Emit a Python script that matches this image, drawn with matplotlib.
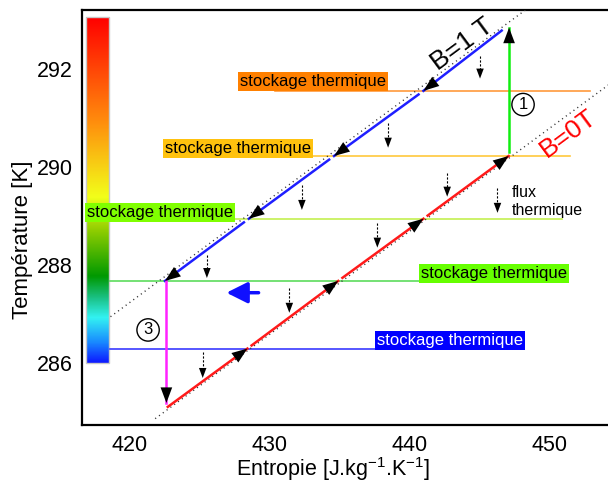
import matplotlib.pyplot as plt
import numpy as np
from matplotlib.colors import LinearSegmentedColormap
from matplotlib.patches import Rectangle

plt.rcParams['font.family'] = ['Liberation Sans', 'DejaVu Sans']
plt.rcParams['mathtext.fontset'] = 'custom'
plt.rcParams['mathtext.rm'] = 'Liberation Sans'
plt.rcParams['mathtext.it'] = 'Liberation Sans:italic'

# --- données ---
# niveaux de stockage thermique (K) et étendue en entropie
niveaux_T = [286.29, 287.67, 288.94, 290.22, 291.55]
niveaux_Smin = [418.6, 418.6, 427.3, 424.5, 430.4]
niveaux_Smax = [441.3, 447.0, 450.9, 451.5, 452.9]
niveaux_couleur = ['#3a3aff', '#5cdb5c', '#c4f050', '#ffc83c', '#ff9a3c']

# étiquettes "stockage thermique" (coin gauche, centre vertical)
etiq_S = [437.7, 440.8, 416.9, 422.5, 427.9]
etiq_T = [286.46, 287.83, 289.07, 290.37, 291.745]
etiq_fond = ['#0000ff', '#66ff00', '#80ff00', '#ffc20e', '#ff8000']
etiq_texte = ['white', 'black', 'black', 'black', 'black']

# isochamp B=1T (descente) et B=0T (montée)
b1_S = [422.5, 428.5, 434.6, 441.0, 446.6]
b1_T = [287.67, 288.94, 290.22, 291.55, 292.78]
b0_S = [422.7, 428.4, 434.9, 441.0, 447.1]
b0_T = [285.10, 286.29, 287.67, 288.94, 290.22]
pointille_b1_S = [418.6, 448.3]
pointille_b1_T = [286.94, 293.2]
pointille_b0_S = [421.8, 455.0]
pointille_b0_T = [284.86, 291.83]

# flux thermique (petites flèches pointillées)
flux_S = [445.05, 438.47, 432.3, 442.7, 446.3, 437.7, 425.5, 431.4, 425.2]
flux_Thaut = [292.27, 290.90, 289.63, 289.88, 289.57, 288.86, 288.20, 287.53, 286.22]
flux_Tbas = [291.80, 290.39, 289.12, 289.39, 289.06, 288.35, 287.73, 287.02, 285.69]

# étapes 1 (aimantation) et 3 (désaimantation)
etape1_S, etape1_T = 447.13, [290.31, 292.84]
etape3_S, etape3_T = 422.6, [287.67, 285.18]


def tete(ax, x0, y0, x1, y1, color='k', ms=14):
    ax.annotate('', xy=(x1, y1), xytext=(x0, y0),
                arrowprops=dict(arrowstyle='-|>,head_length=0.8,head_width=0.3',
                                color=color, lw=0, shrinkA=0, shrinkB=0,
                                mutation_scale=ms), zorder=6)


fig = plt.figure(figsize=(6.08, 4.84), dpi=100)
ax = fig.add_axes([82 / 608, 59 / 484, 538 / 608, 415 / 484])

# barre de couleur (échelle de température)
cmap = LinearSegmentedColormap.from_list('temp', [
    (0.0, (0.05, 0.1, 1.0)), (0.06, (0.1, 0.55, 1.0)), (0.13, (0.2, 0.95, 0.95)),
    (0.19, (0.1, 0.75, 0.5)), (0.25, (0.0, 0.6, 0.0)), (0.38, (0.55, 0.8, 0.0)),
    (0.48, (0.95, 1.0, 0.1)), (0.7, (1.0, 0.55, 0.05)), (1.0, (1.0, 0.0, 0.0))])
grad = np.linspace(0, 1, 256).reshape(-1, 1)
ax.imshow(grad, extent=[416.85, 418.5, 286.0, 293.06], origin='lower',
          aspect='auto', cmap=cmap, zorder=1)
ax.add_patch(Rectangle((416.85, 286.0), 1.65, 7.06, fill=False, ec='#c8c8c8', lw=1, zorder=2))

# niveaux horizontaux
for T, s0, s1, c in zip(niveaux_T, niveaux_Smin, niveaux_Smax, niveaux_couleur):
    ax.plot([s0, s1], [T, T], color=c, lw=1.2, zorder=2)

# lignes pointillées des isochamps
ax.plot(pointille_b1_S, pointille_b1_T, color='#333333', lw=1, ls=(0, (0.8, 2.6)), zorder=3)
ax.plot(pointille_b0_S, pointille_b0_T, color='#333333', lw=1, ls=(0, (0.8, 2.6)), zorder=3)

pente = (b1_T[-1] - b1_T[0]) / (b1_S[-1] - b1_S[0])

# B=1T : segments bleus vers le bas
for i in range(4):
    s0 = b1_S[i + 1] - (0 if i == 3 else 0.35)
    t0 = b1_T[i + 1] - (0 if i == 3 else 0.35 * pente)
    ax.plot([s0, b1_S[i]], [t0, b1_T[i]], color='#1f1fff', lw=1.8, zorder=4)
    tete(ax, s0, t0, b1_S[i], b1_T[i])

# B=0T : segments rouges vers le haut
for i in range(4):
    s0 = b0_S[i] + (0 if i == 0 else 0.3)
    t0 = b0_T[i] + (0 if i == 0 else 0.3 * pente)
    ax.plot([s0, b0_S[i + 1]], [t0, b0_T[i + 1]], color='#ff1a1a', lw=1.8, zorder=4)
    tete(ax, s0, t0, b0_S[i + 1], b0_T[i + 1])

# étape 1 et étape 3
ax.plot([etape1_S, etape1_S], etape1_T, color='#11ee11', lw=1.8, zorder=4)
tete(ax, etape1_S, etape1_T[0], etape1_S, etape1_T[1])
ax.plot([etape3_S, etape3_S], etape3_T, color='#ff22ff', lw=1.8, zorder=4)
tete(ax, etape3_S, etape3_T[0], etape3_S, etape3_T[1])

ax.text(448.13, 291.27, '1', fontsize=12, ha='center', va='center',
        bbox=dict(boxstyle='circle,pad=0.22', fc='none', ec='k', lw=1), zorder=5)
ax.text(421.29, 286.67, '3', fontsize=12, ha='center', va='center',
        bbox=dict(boxstyle='circle,pad=0.22', fc='none', ec='k', lw=1), zorder=5)

# flèche bleue (sens du fluide)
ax.annotate('', xy=(426.9, 287.43), xytext=(429.2, 287.43),
            arrowprops=dict(arrowstyle='-|>,head_length=0.8,head_width=0.4',
                            color='#1010ff', lw=2.5, shrinkA=0, shrinkB=0,
                            mutation_scale=16), zorder=5)

# flux thermique
for s, th, tb in zip(flux_S, flux_Thaut, flux_Tbas):
    ax.plot([s, s], [th, tb + 0.1], color='k', lw=0.8, ls=(0, (2, 1.5)), zorder=5)
    tete(ax, s, th, s, tb, ms=9)
ax.text(447.35, 289.29, 'flux\nthermique', fontsize=11.5, ha='left', va='center',
        linespacing=1.25, zorder=5)

# étiquettes de stockage thermique
for s, t, fc, tc in zip(etiq_S, etiq_T, etiq_fond, etiq_texte):
    ax.text(s, t, 'stockage thermique', fontsize=12, color=tc, ha='left', va='center',
            bbox=dict(boxstyle='square,pad=0.12', fc=fc, ec='none'), zorder=5)

# noms des isochamps
ax.text(443.77, 292.49, 'B=1 T', fontsize=19, rotation=36.5, ha='center', va='center',
        rotation_mode='anchor', zorder=5)
ax.text(451.35, 290.69, 'B=0T', fontsize=19, rotation=36.5, color='red', ha='center',
        va='center', rotation_mode='anchor', zorder=5)

ax.set_xlim(416.56, 455.07)
ax.set_ylim(284.73, 293.2)
ax.set_xticks([420, 430, 440, 450])
ax.set_yticks([286, 288, 290, 292])
ax.tick_params(length=0, labelsize=15.5)
ax.tick_params(axis='x', pad=7.5)
ax.tick_params(axis='y', pad=6.5)
for sp in ax.spines.values():
    sp.set_linewidth(1.6)

ax.set_xlabel('Entropie [J.kg$^{-1}$.K$^{-1}$]', fontsize=15.5)
ax.set_ylabel('Température [K]', fontsize=16)
ax.xaxis.set_label_coords(0.4665, -0.072)
ax.yaxis.set_label_coords(-0.091, 0.446)

fig.savefig('out.png', dpi=100)
